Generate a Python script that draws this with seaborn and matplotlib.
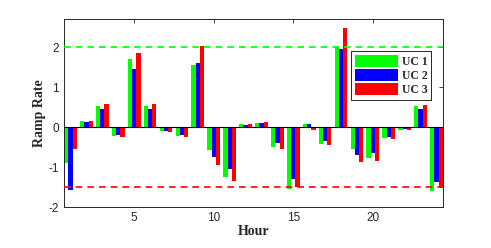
import matplotlib
matplotlib.use("Agg")
import matplotlib.pyplot as plt
import seaborn as sns
import pandas as pd

# ── Data ─────────────────────────────────────────────────────────────────────
hours = list(range(1, 25))
uc1 = [-0.91, 0.14, 0.53, -0.23, 1.70, 0.53, -0.10, -0.23, 1.55, -0.58, -1.24, 0.08,
       0.11, -0.50, -1.54, 0.08, -0.42, 2.00, -0.54, -0.78, -0.28, -0.07, 0.52, -1.60]
uc2 = [-1.57, 0.12, 0.45, -0.20, 1.45, 0.45, -0.09, -0.20, 1.59, -0.75, -1.06, 0.06,
       0.09, -0.41, -1.31, 0.07, -0.36, 1.95, -0.69, -0.66, -0.26, -0.06, 0.45, -1.37]
uc3 = [-0.54, 0.16, 0.58, -0.26, 1.85, 0.58, -0.12, -0.26, 2.02, -0.95, -1.35, 0.08,
       0.13, -0.54, -1.50, -0.08, -0.46, 2.48, -0.87, -0.84, -0.31, -0.07, 0.56, -1.52]
series_names = ["UC 1", "UC 2", "UC 3"]
upper_limit = 2.0
lower_limit = -1.5

df = pd.DataFrame({
    "Hour": hours * 3,
    "Ramp": uc1 + uc2 + uc3,
    "Unit": [n for n in series_names for _ in hours],
})

# ── Plot ─────────────────────────────────────────────────────────────────────
sns.set_style("white")
plt.rcParams["font.family"] = ["Liberation Sans", "DejaVu Sans"]
plt.rcParams["axes.unicode_minus"] = False
edge = "#262626"

fig = plt.figure(figsize=(4.91, 2.48), dpi=100)
ax = fig.add_axes([0.130, 0.165, 0.772, 0.758])

sns.barplot(data=df, x="Hour", y="Ramp", hue="Unit", native_scale=True,
            palette=["#00ff00", "#0000ff", "#ff0000"], saturation=1, width=0.8,
            linewidth=0, errorbar=None, ax=ax)

ax.axhline(0, color="black", lw=0.8, zorder=3)
ax.axhline(upper_limit, color="#00ff00", lw=1.2, ls=(0, (4, 3)), zorder=4)
ax.axhline(lower_limit, color="#ff0000", lw=1.2, ls=(0, (4, 3)), zorder=4)

ax.set_xlim(0.58, 24.4)
ax.set_ylim(-2, 2.7)
ax.set_xticks([5, 10, 15, 20])
ax.set_yticks([-2, -1, 0, 1, 2])
ax.tick_params(direction="in", length=3, width=0.6, colors=edge,
               labelsize=8.5, top=True, right=True, labelcolor="#262626")
for s in ax.spines.values():
    s.set_color(edge)
    s.set_linewidth(0.7)

serif = ["Liberation Serif", "DejaVu Serif"]
ax.set_xlabel("Hour", family=serif, fontweight="bold", fontsize=10, labelpad=1)
ax.set_ylabel("Ramp Rate", family=serif, fontweight="bold", fontsize=10, labelpad=2)

leg = ax.legend(loc="upper right", bbox_to_anchor=(0.985, 0.86),
                prop={"family": serif, "weight": "bold", "size": 8.5},
                handlelength=3.7, handleheight=1.2, handletextpad=0.3,
                labelspacing=0.1, borderpad=0.3, fancybox=False,
                framealpha=1)
leg.get_frame().set_edgecolor(edge)
leg.get_frame().set_linewidth(0.7)

fig.savefig("out.png", dpi=100)
plt.close(fig)
